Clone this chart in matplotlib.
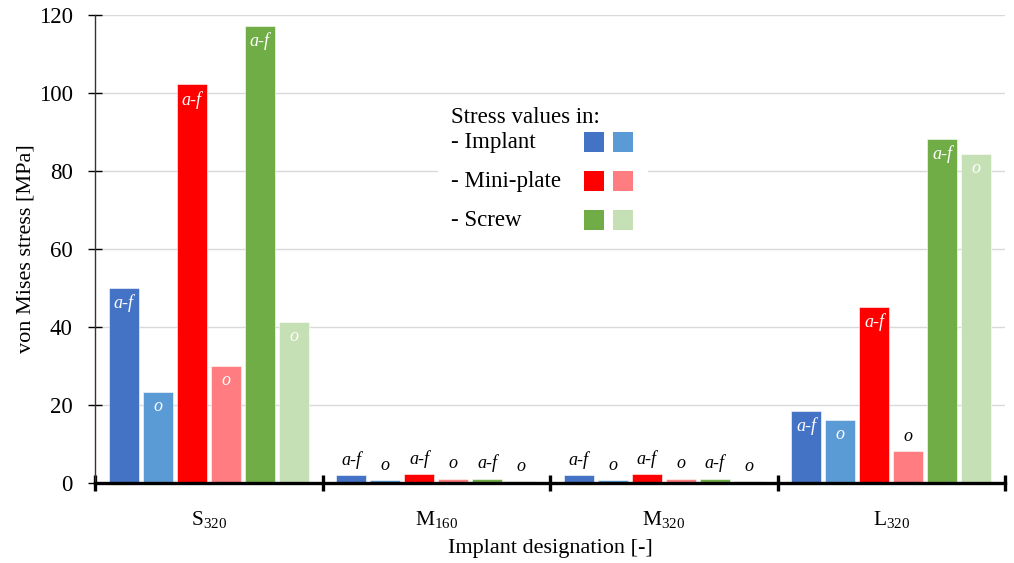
import matplotlib
matplotlib.use("Agg")
import matplotlib.pyplot as plt
from matplotlib.patches import Rectangle
import numpy as np

plt.rcParams['font.family'] = ['Liberation Serif', 'DejaVu Serif']
plt.rcParams['mathtext.fontset'] = 'custom'
plt.rcParams['mathtext.rm'] = 'Liberation Serif'
plt.rcParams['mathtext.it'] = 'Liberation Serif:italic'

# Implant designations
groups = ["S$_\\mathrm{320}$", "M$_\\mathrm{160}$", "M$_\\mathrm{320}$", "L$_\\mathrm{320}$"]

# von Mises stress [MPa] per component, a-f and o variants
implant_af = [50.0, 2.0, 2.0, 18.5]
implant_o = [23.4, 0.7, 0.7, 16.2]
plate_af = [102.2, 2.2, 2.2, 45.1]
plate_o = [30.0, 1.1, 1.1, 8.2]
screw_af = [117.2, 1.1, 1.1, 88.2]
screw_o = [41.3, 0.5, 0.5, 84.4]

series = [implant_af, implant_o, plate_af, plate_o, screw_af, screw_o]
series_tags = ["a-f", "o", "a-f", "o", "a-f", "o"]
colors = ["#4472C4", "#5B9BD5", "#FF0000", "#FF7C80", "#70AD47", "#C5E0B4"]

legend_rows = ["- Implant", "- Mini-plate", "- Screw"]

fig = plt.figure(figsize=(10.14, 5.63), dpi=100)
ax = fig.add_axes([95 / 1014, 1 - 483 / 563, 910 / 1014, 468 / 563])

x = np.arange(len(groups))
step = 0.1495
width = 0.132
for i, (vals, tag, col) in enumerate(zip(series, series_tags, colors)):
    pos = x + (i - 2.5) * step
    ax.bar(pos, vals, width=width, color=col, edgecolor="white",
           linewidth=0.4, zorder=3)
    for p, v in zip(pos, vals):
        if v >= 12:
            ax.text(p, v - 1.6, tag, ha="center", va="top", color="white",
                    style="italic", fontsize=13, zorder=4)
        else:
            ax.text(p, v + 1.6, tag, ha="center", va="bottom", color="black",
                    style="italic", fontsize=13, zorder=4)

ax.set_xlim(-0.5, len(groups) - 0.5)
ax.set_ylim(0, 120)
ax.set_yticks(np.arange(0, 121, 20))
ax.yaxis.grid(True, color="#D9D9D9", linewidth=1.0, zorder=0)
ax.set_axisbelow(True)

ax.set_xticks(x)
ax.set_xticklabels(groups, fontsize=15.5)
ax.set_xticks(np.arange(-0.5, len(groups), 1.0), minor=True)
ax.tick_params(axis="x", which="major", length=0, pad=19)
ax.tick_params(axis="x", which="minor", direction="inout", length=11,
               width=2.4, color="black")
ax.tick_params(axis="y", direction="inout", length=10, width=1.0,
               labelsize=16.5, pad=11)

for side in ("top", "right"):
    ax.spines[side].set_visible(False)
ax.spines["bottom"].set_linewidth(2.4)
ax.spines["bottom"].set_zorder(5)
ax.spines["left"].set_linewidth(1.0)
ax.spines["left"].set_color("#333333")

ax.set_ylabel("von Mises stress [MPa]", fontsize=16, labelpad=2)
ax.set_xlabel("Implant designation [-]", fontsize=16, labelpad=6)

# Legend block drawn in figure pixel coordinates
def fx(px):
    return px / 1014

def fy(py):
    return 1 - py / 563

fig.patches.append(Rectangle((fx(438), fy(240)), fx(648) - fx(438),
                             fy(96) - fy(240), transform=fig.transFigure,
                             facecolor="white", edgecolor="none", zorder=2))
fig.text(fx(451), fy(117), "Stress values in:", fontsize=16.5, va="center",
         ha="left", zorder=3)
row_y = [142, 181, 220]
for label, ry, k in zip(legend_rows, row_y, range(3)):
    fig.text(fx(451), fy(ry), label, fontsize=16.5, va="center", ha="left",
             zorder=3)
    for j, x0 in enumerate((584, 613)):
        fig.patches.append(Rectangle((fx(x0), fy(ry + 10)), fx(20), 20 / 563,
                                     transform=fig.transFigure,
                                     facecolor=colors[2 * k + j],
                                     edgecolor="none", zorder=3))

fig.savefig("out.png", dpi=100)
